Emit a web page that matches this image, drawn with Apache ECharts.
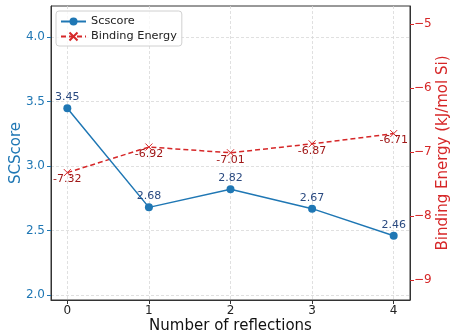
<!DOCTYPE html>
<html>
<head>
<meta charset="utf-8">
<script src="https://cdn.jsdelivr.net/npm/echarts@6/dist/echarts.min.js"></script>
<style>html,body{margin:0;padding:0;background:#fff}#c{width:451px;height:332px}</style>
</head>
<body>
<div id="c"></div>
<script>
const reflections = [0, 1, 2, 3, 4];
const scscore = [3.45, 2.68, 2.82, 2.67, 2.46];
const bindingEnergy = [-7.32, -6.92, -7.01, -6.87, -6.71];
const xTicks = [0, 1, 2, 3, 4];
const leftTicks = [2.0, 2.5, 3.0, 3.5, 4.0];
const rightTicks = [-9, -8, -7, -6, -5];

const FONT = 'DejaVu Sans';
const BLUE = '#1f77b4';
const RED = '#d62728';
const crossPath = 'path://M0,0L10,10M10,0L0,10';

const chart = echarts.init(document.getElementById('c'), null, {renderer: 'canvas'});
chart.setOption({
  animation: false,
  textStyle: {fontFamily: FONT},
  grid: {left: 51, right: 41, top: 6, bottom: 32, containLabel: false, outerBoundsMode: 'none', show: true, borderColor: '#333', borderWidth: 1},
  legend: {
    left: 56, top: 11,
    orient: 'vertical',
    itemWidth: 25, itemHeight: 10, itemGap: 4,
    padding: [5, 5, 4, 4],
    backgroundColor: 'rgba(255,255,255,0.8)',
    borderColor: '#d0d0d0', borderWidth: 1, borderRadius: 3,
    textStyle: {fontFamily: FONT, fontSize: 11.3, color: '#222'},
    data: ['Scscore', 'Binding Energy']
  },
  xAxis: {
    type: 'value', min: -0.2, max: 4.2,
    name: 'Number of reflections', nameLocation: 'middle', nameGap: 19, nameMoveOverlap: false,
    nameTextStyle: {fontFamily: FONT, fontSize: 15, color: '#111'},
    axisLine: {show: true, onZero: false, lineStyle: {color: '#333'}},
    axisTick: {show: true, length: 4, lineStyle: {color: '#333'}, customValues: xTicks},
    axisLabel: {fontFamily: FONT, fontSize: 12, color: '#222', margin: 5, customValues: xTicks, formatter: v => String(v)},
    splitLine: {show: true, lineStyle: {color: '#d8d8d8', type: [3, 2], width: 0.8}}
  },
  yAxis: [{
    type: 'value', min: 1.961, max: 4.243, position: 'left',
    name: 'SCScore', nameLocation: 'middle', nameGap: 27, nameRotate: 90, nameMoveOverlap: false,
    nameTextStyle: {fontFamily: FONT, fontSize: 15, color: BLUE},
    axisLine: {show: true, onZero: false, lineStyle: {color: '#333'}},
    axisTick: {show: true, length: 4, lineStyle: {color: BLUE}, customValues: leftTicks},
    axisLabel: {fontFamily: FONT, fontSize: 12, color: BLUE, margin: 6, customValues: leftTicks, formatter: v => v.toFixed(1)},
    splitLine: {show: true, lineStyle: {color: '#d8d8d8', type: [3, 2], width: 0.8}}
  }, {
    type: 'value', min: -9.313, max: -4.714, position: 'right',
    name: 'Binding Energy (kJ/mol Si)', nameLocation: 'middle', nameGap: 26, nameRotate: 90, nameMoveOverlap: false,
    nameTextStyle: {fontFamily: FONT, fontSize: 15, color: RED},
    axisLine: {show: true, onZero: false, lineStyle: {color: '#333'}},
    axisTick: {show: true, length: 4, lineStyle: {color: RED}, customValues: rightTicks},
    axisLabel: {fontFamily: FONT, fontSize: 12, color: RED, margin: 4, customValues: rightTicks, formatter: v => '\u2212' + Math.abs(v)},
    splitLine: {show: false}
  }],
  series: [{
    name: 'Scscore', type: 'line', yAxisIndex: 0,
    data: reflections.map((x, i) => [x, scscore[i]]),
    symbol: 'circle', symbolSize: 8,
    lineStyle: {color: BLUE, width: 1.5},
    itemStyle: {color: BLUE},
    label: {show: true, position: 'inside', offset: [0, -11], fontFamily: FONT, fontSize: 11, color: '#2a4a80', formatter: p => p.value[1].toFixed(2)},
    z: 3
  }, {
    name: 'Binding Energy', type: 'line', yAxisIndex: 1,
    data: reflections.map((x, i) => [x, bindingEnergy[i]]),
    symbol: crossPath, symbolSize: 7,
    lineStyle: {color: RED, width: 1.5, type: [5, 3]},
    itemStyle: {color: 'rgba(0,0,0,0)', borderColor: RED, borderWidth: 1},
    label: {show: true, position: 'inside', offset: [0, 7], fontFamily: FONT, fontSize: 11, color: '#a01818', formatter: p => p.value[1].toFixed(2)},
    z: 2
  }]
});
</script>
</body>
</html>
